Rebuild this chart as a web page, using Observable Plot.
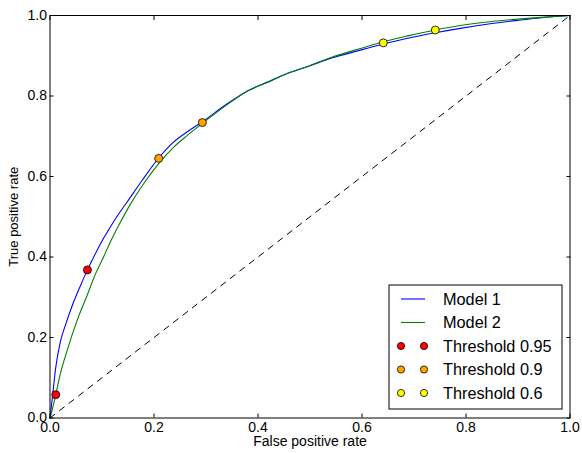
<!DOCTYPE html>
<html><head><meta charset="utf-8">
<script src="https://cdn.jsdelivr.net/npm/d3@7"></script>
<script src="https://cdn.jsdelivr.net/npm/@observablehq/plot@0.6"></script>
<style>body{margin:0;background:#fff}</style>
</head><body><div id="chart"></div>
<script>
// ROC curve values
const model1Fpr = [0, 0.002, 0.006, 0.011, 0.02, 0.03, 0.043, 0.059, 0.072, 0.081, 0.1, 0.113, 0.13, 0.148, 0.177, 0.209, 0.238, 0.264, 0.293, 0.34, 0.379, 0.42, 0.456, 0.5, 0.539, 0.597, 0.641, 0.69, 0.741, 0.789, 0.85, 0.9, 0.95, 1.0];
const model1Tpr = [0, 0.022, 0.068, 0.125, 0.19, 0.232, 0.28, 0.33, 0.368, 0.392, 0.44, 0.468, 0.503, 0.536, 0.59, 0.646, 0.686, 0.711, 0.736, 0.78, 0.812, 0.835, 0.856, 0.875, 0.893, 0.914, 0.929, 0.944, 0.957, 0.968, 0.98, 0.988, 0.995, 1.0];
const model2Fpr = [0, 0.004, 0.011, 0.02, 0.033, 0.052, 0.0715, 0.0875, 0.103, 0.116, 0.132, 0.155, 0.18, 0.209, 0.238, 0.264, 0.293, 0.34, 0.379, 0.42, 0.456, 0.5, 0.539, 0.597, 0.641, 0.69, 0.741, 0.789, 0.85, 0.9, 0.95, 1.0];
const model2Tpr = [0, 0.019, 0.058, 0.11, 0.168, 0.242, 0.305, 0.358, 0.4, 0.437, 0.478, 0.532, 0.582, 0.632, 0.673, 0.702, 0.732, 0.778, 0.812, 0.836, 0.856, 0.876, 0.895, 0.918, 0.935, 0.95, 0.964, 0.975, 0.985, 0.991, 0.996, 1.0];
const seriesNames = ["Model 1", "Model 2"];
const seriesColors = ["#0000ff", "#008000"];
const thresholdNames = ["Threshold 0.95", "Threshold 0.9", "Threshold 0.6"];
const thresholdColors = ["#ff0000", "#ffa500", "#ffff00"];
const thresholdFpr = [[0.011, 0.072], [0.209, 0.293], [0.641, 0.741]];
const thresholdTpr = [[0.058, 0.368], [0.645, 0.734], [0.932, 0.964]];
const chanceFpr = [0, 1];
const chanceTpr = [0, 1];
const tickValues = [0, 0.2, 0.4, 0.6, 0.8, 1.0];
const xLabel = "False positive rate";
const yLabel = "True positive rate";

const curves = [
  ...model1Fpr.map((x, i) => ({series: seriesNames[0], x, y: model1Tpr[i]})),
  ...model2Fpr.map((x, i) => ({series: seriesNames[1], x, y: model2Tpr[i]}))
];
const chance = chanceFpr.map((x, i) => ({x, y: chanceTpr[i]}));
const points = thresholdNames.flatMap((name, k) =>
  thresholdFpr[k].map((x, i) => ({series: name, x, y: thresholdTpr[k][i]})));

const font = "'Liberation Sans', Arial, Helvetica, sans-serif";
const W = 582, H = 453;
const mL = 49.5, mR = 12.5, mT = 15, mB = 35.5;

const svg = Plot.plot({
  width: W, height: H,
  marginLeft: mL, marginRight: mR, marginTop: mT, marginBottom: mB,
  style: {fontFamily: font, fontSize: "14px", background: "white", color: "black", overflow: "visible"},
  x: {domain: [0, 1], label: null},
  y: {domain: [0, 1], label: null},
  color: {domain: [...seriesNames, ...thresholdNames], range: [...seriesColors, ...thresholdColors]},
  marks: [
    Plot.line(chance, {x: "x", y: "y", stroke: "black", strokeWidth: 1, strokeDasharray: "6,6"}),
    Plot.line(curves, {x: "x", y: "y", z: "series", stroke: "series", strokeWidth: 1.1, curve: "monotone-x"}),
    Plot.dot(points, {x: "x", y: "y", fill: "series", stroke: "black", strokeWidth: 0.8, r: 4}),
    Plot.frame({stroke: "black", strokeWidth: 1}),
    Plot.axisX({ticks: tickValues, anchor: "bottom", tickSize: -4, tickPadding: 8, tickFormat: d3.format(".1f"), label: null, fontSize: 14}),
    Plot.axisX({ticks: tickValues, anchor: "top", tickSize: -4, tickFormat: () => "", label: null}),
    Plot.axisY({ticks: tickValues, anchor: "left", tickSize: -4, tickPadding: 7, tickFormat: d3.format(".1f"), label: null, fontSize: 14}),
    Plot.axisY({ticks: tickValues, anchor: "right", tickSize: -4, tickFormat: () => "", label: null}),
    Plot.text([xLabel], {text: d => d, frameAnchor: "bottom", dy: 28, fontSize: 14, textAnchor: "middle"}),
    Plot.text([yLabel], {text: d => d, frameAnchor: "left", rotate: -90, dx: -36, fontSize: 13, textAnchor: "middle"})
  ]
});
document.getElementById("chart").appendChild(svg);

// Legend (inside the plot area, lower right)
const lg = d3.select(svg).append("g").attr("font-family", font).attr("font-size", 16.3).attr("text-anchor", "start");
const box = {x: 389, y: 285, w: 173, h: 124};
lg.append("rect").attr("x", box.x).attr("y", box.y).attr("width", box.w).attr("height", box.h)
  .attr("fill", "white").attr("stroke", "black").attr("stroke-width", 1);
const entries = [
  ...seriesNames.map((n, i) => ({name: n, color: seriesColors[i], kind: "line"})),
  ...thresholdNames.map((n, i) => ({name: n, color: thresholdColors[i], kind: "dot"}))
];
entries.forEach((e, i) => {
  const cy = 299 + i * 23.5;
  if (e.kind === "line") {
    lg.append("line").attr("x1", 401).attr("x2", 425).attr("y1", cy).attr("y2", cy)
      .attr("stroke", e.color).attr("stroke-width", 1.1);
  } else {
    [401, 424].forEach(cx => lg.append("circle").attr("cx", cx).attr("cy", cy).attr("r", 3.6)
      .attr("fill", e.color).attr("stroke", "black").attr("stroke-width", 0.8));
  }
  lg.append("text").attr("x", 443).attr("y", cy).attr("dy", "0.35em").attr("text-anchor", "start")
    .attr("fill", "black").text(e.name);
});
</script>
</body></html>
